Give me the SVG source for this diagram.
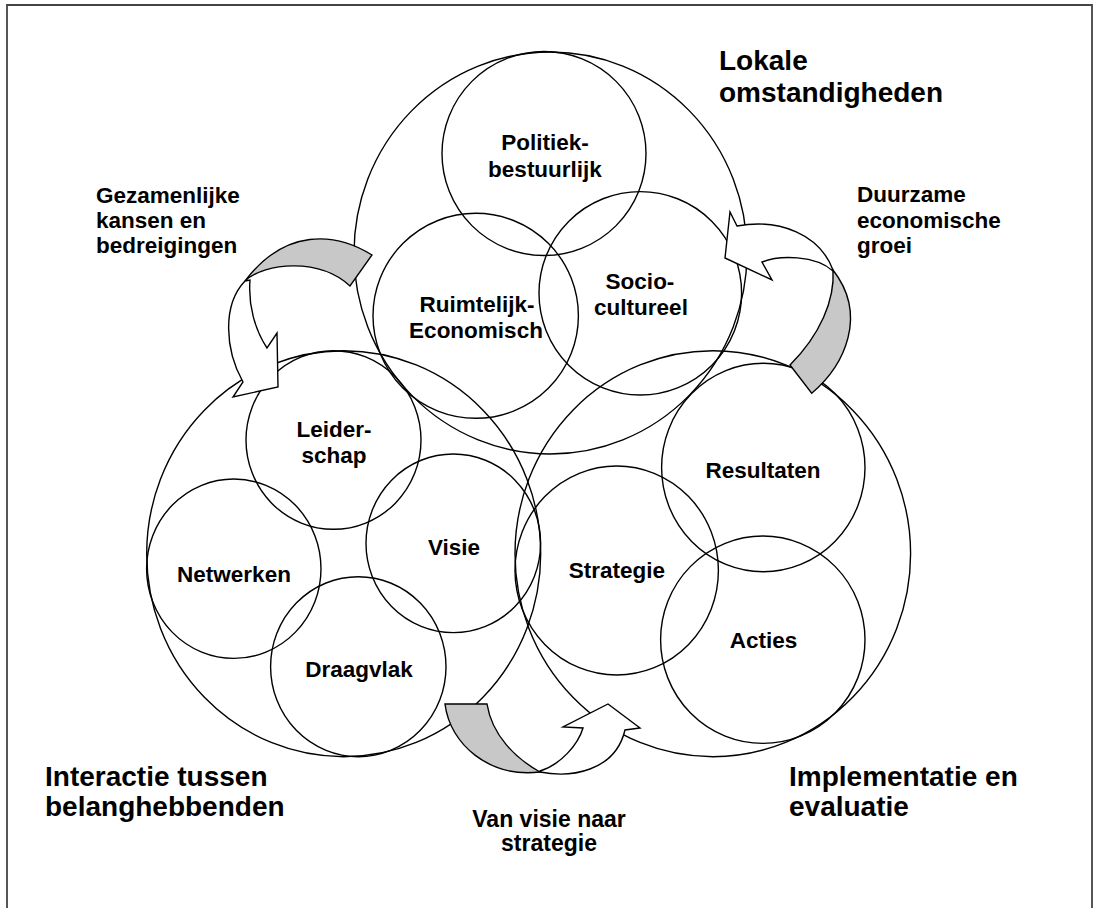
<svg xmlns="http://www.w3.org/2000/svg" width="1093" height="908" viewBox="0 0 1093 908">
  <style>
    .ring { fill: none; stroke: #000; stroke-width: 1.4; }
    .lbl { font-family: "Liberation Sans", Arial, sans-serif; font-weight: bold; font-size: 22.5px; fill: #000; text-anchor: middle; }
    .side { font-family: "Liberation Sans", Arial, sans-serif; font-weight: bold; font-size: 22.5px; fill: #000; }
    .head { font-family: "Liberation Sans", Arial, sans-serif; font-weight: bold; font-size: 28px; fill: #000; }
    .band-back { fill: #c8c8c8; stroke: #000; stroke-width: 1.4; stroke-linejoin: miter; }
    .band-front { fill: #fff; stroke: #000; stroke-width: 1.4; stroke-linejoin: miter; }
  </style>

  <rect x="0" y="0" width="1093" height="908" fill="#fff"/>
  <!-- frame: left, top and right edges -->
  <path d="M7,908 V5 H1092 V908" fill="none" stroke="#444" stroke-width="1.8"/>

  <!-- Local circumstances cluster -->
  <g id="lokale-omstandigheden">
    <ellipse class="ring" cx="550.5" cy="253" rx="196.5" ry="201"/>
    <text class="head" x="719" y="70">Lokale</text>
    <text class="head" x="719" y="101.5">omstandigheden</text>
  </g>
  <g id="politiek-bestuurlijk">
    <ellipse class="ring" cx="544" cy="153.5" rx="102" ry="102"/>
    <text class="lbl" x="545" y="150">Politiek-</text>
    <text class="lbl" x="545" y="176.5">bestuurlijk</text>
  </g>
  <g id="ruimtelijk-economisch">
    <ellipse class="ring" cx="475.7" cy="315.8" rx="102.7" ry="102.5"/>
    <text class="lbl" x="477" y="311.5">Ruimtelijk-</text>
    <text class="lbl" x="476" y="338">Economisch</text>
  </g>
  <g id="sociaal-cultureel">
    <ellipse class="ring" cx="640.3" cy="293.3" rx="101.3" ry="101.7"/>
    <text class="lbl" x="640" y="288.5">Socio-</text>
    <text class="lbl" x="641" y="315">cultureel</text>
  </g>

  <!-- Stakeholder interaction cluster -->
  <g id="interactie-belanghebbenden">
    <ellipse class="ring" cx="343.7" cy="553.7" rx="197" ry="203"/>
    <text class="head" x="45" y="786">Interactie tussen</text>
    <text class="head" x="45" y="816">belanghebbenden</text>
  </g>
  <g id="leiderschap">
    <ellipse class="ring" cx="333.5" cy="440" rx="87.5" ry="89.3"/>
    <text class="lbl" x="334" y="437">Leider-</text>
    <text class="lbl" x="334" y="463">schap</text>
  </g>
  <g id="netwerken">
    <ellipse class="ring" cx="233.8" cy="568.7" rx="87.2" ry="89.7"/>
    <text class="lbl" x="234" y="581.5">Netwerken</text>
  </g>
  <g id="visie">
    <ellipse class="ring" cx="453.3" cy="543.3" rx="87.3" ry="89.3"/>
    <text class="lbl" x="454" y="555">Visie</text>
  </g>
  <g id="draagvlak">
    <ellipse class="ring" cx="358.3" cy="666.7" rx="87.7" ry="90"/>
    <text class="lbl" x="359" y="677">Draagvlak</text>
  </g>

  <!-- Implementation and evaluation cluster -->
  <g id="implementatie-evaluatie">
    <ellipse class="ring" cx="712.8" cy="553.7" rx="197.8" ry="203"/>
    <text class="head" x="789" y="786">Implementatie en</text>
    <text class="head" x="789" y="816">evaluatie</text>
  </g>
  <g id="resultaten">
    <ellipse class="ring" cx="763.3" cy="467.5" rx="101.7" ry="104.2"/>
    <text class="lbl" x="763" y="477.5">Resultaten</text>
  </g>
  <g id="strategie">
    <ellipse class="ring" cx="616.7" cy="570.5" rx="101.7" ry="104.5"/>
    <text class="lbl" x="617" y="578">Strategie</text>
  </g>
  <g id="acties">
    <ellipse class="ring" cx="762.8" cy="639.7" rx="102.2" ry="103.7"/>
    <text class="lbl" x="763.5" y="648">Acties</text>
  </g>

  <!-- Curved block arrows between the clusters -->
  <g id="connectors">
    <g id="arrow-kansen">
      <path class="band-back" d="M372,255 C335,232 285,228 245,281 C265,262 320,258 350,286 Z"/>
      <path class="band-front" d="M245,281 C222,305 225,350 243,382 L233,397 L278,387 L277,333 L267,348 C255,330 248,305 250,280 Z"/>
      <text class="side" x="96" y="203">Gezamenlijke</text>
      <text class="side" x="96" y="228">kansen en</text>
      <text class="side" x="96" y="252.5">bedreigingen</text>
    </g>
    <g id="arrow-groei">
      <path class="band-back" d="M811.7,393.3 C845,365 868,315 833,270 C835,300 820,335 790,365 Z"/>
      <path class="band-front" d="M833,270 C820,235 780,218 737,226 L730,212 L725,258 L772,280 L762,262 C780,255 815,255 833,271 Z"/>
      <text class="side" x="857" y="201.5">Duurzame</text>
      <text class="side" x="857" y="228">economische</text>
      <text class="side" x="857" y="253">groei</text>
    </g>
    <g id="arrow-visie-strategie">
      <path class="band-back" d="M445,704 C450,745 490,778 540,772 C515,758 492,735 487,704 Z"/>
      <path class="band-front" d="M540,772 C570,778 615,772 625,730 L640,728 L608,704 L563,727 L583,728 C578,745 560,765 540,771 Z"/>
      <text class="lbl" x="549" y="827" style="font-size:23px">Van visie naar</text>
      <text class="lbl" x="549" y="850.5" style="font-size:23px">strategie</text>
    </g>
  </g>
</svg>
